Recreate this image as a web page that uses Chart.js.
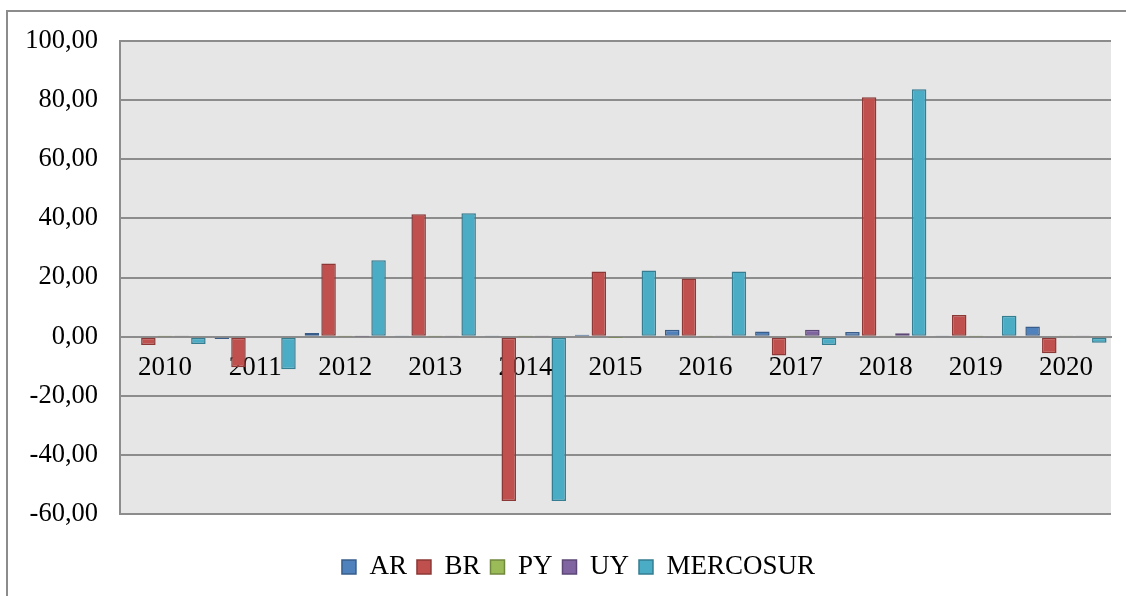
<!DOCTYPE html>
<html>
<head>
<meta charset="utf-8">
<script src="https://cdn.jsdelivr.net/npm/chart.js@4.4.0/dist/chart.umd.min.js"></script>
<style>
  html, body { margin: 0; padding: 0; background: #ffffff; }
  #wrap { position: relative; width: 1126px; height: 596px; }
</style>
</head>
<body>
<div id="wrap"><canvas id="barChart" width="1126" height="596"></canvas></div>
<script>
const years = ['2010', '2011', '2012', '2013', '2014', '2015', '2016', '2017', '2018', '2019', '2020'];
const valuesAR = [0.3, -0.8, 1.2, 0.1, 0.1, 0.6, 2.3, 1.7, 1.6, 0.1, 3.4];
const valuesBR = [-2.8, -10.4, 24.7, 41.4, -55.6, 22.0, 19.7, -6.4, 81.0, 7.3, -5.6];
const valuesPY = [0.05, 0.0, 0.05, 0.05, 0.05, -0.1, 0.05, 0.05, 0.1, 0.05, 0.1];
const valuesUY = [0.1, 0.0, 0.05, 0.1, 0.1, -0.3, 0.2, 2.3, 1.1, -0.3, 0.2];
const valuesMERCOSUR = [-2.5, -11.0, 25.8, 41.7, -55.6, 22.4, 22.0, -2.8, 83.7, 7.1, -2.1];

const fontFamily = '"Liberation Serif", "Times New Roman", serif';

// fondo gris del area de trazado y marco exterior
const frameAndBg = {
    id: 'frameAndBg',
    afterLayout(chart) {
        // recoloca la leyenda como en el original
        const lg = chart.legend;
        const shiftY = 567 - (lg.top + lg.height / 2);
        lg.top += shiftY;
        lg.bottom += shiftY;
        lg.left += 23;
        lg.right += 23;
    },
    beforeDraw(chart) {
        const ctx = chart.ctx;
        const a = chart.chartArea;
        ctx.save();
        ctx.strokeStyle = '#8c8c8c';
        ctx.lineWidth = 2;
        ctx.beginPath();
        ctx.moveTo(7, 596);
        ctx.lineTo(7, 11);
        ctx.lineTo(1126, 11);
        ctx.stroke();
        ctx.fillStyle = '#e6e6e6';
        ctx.fillRect(a.left, a.top, a.right - a.left, a.bottom - a.top);
        ctx.restore();
    }
};

function makeSet(label, data, fill, border) {
    return {
        label: label,
        data: data,
        backgroundColor: fill,
        borderColor: border,
        borderWidth: 1.5,
        borderSkipped: false,
        barPercentage: 0.87,
        categoryPercentage: 0.925
    };
}

const ctx = document.getElementById('barChart').getContext('2d');
const barChart = new Chart(ctx, {
    type: 'bar',
    data: {
        labels: years,
        datasets: [
            makeSet('AR', valuesAR, '#4f81bd', '#385d8a'),
            makeSet('BR', valuesBR, '#c0504d', '#8c3836'),
            makeSet('PY', valuesPY, '#9bbb59', '#71893f'),
            makeSet('UY', valuesUY, '#8064a2', '#5c4776'),
            makeSet('MERCOSUR', valuesMERCOSUR, '#4bacc6', '#357d91')
        ]
    },
    options: {
        responsive: false,
        animation: false,
        layout: { padding: { top: 41, right: 15, bottom: 35, left: 0 } },
        scales: {
            x: {
                position: { y: 0 },
                grid: { display: false, drawTicks: false },
                border: { display: true, color: '#8c8c8c', width: 2 },
                ticks: {
                    color: '#000000',
                    font: { family: fontFamily, size: 27 },
                    padding: 15,
                    maxRotation: 0
                }
            },
            y: {
                min: -60,
                max: 100,
                afterFit(scale) { scale.width = 120; },
                grid: { color: '#8c8c8c', lineWidth: 2, drawTicks: false },
                border: { display: true, color: '#8c8c8c', width: 2 },
                ticks: {
                    stepSize: 20,
                    color: '#000000',
                    font: { family: fontFamily, size: 26.5 },
                    padding: 22,
                    callback: v => v.toFixed(2).replace('.', ',')
                }
            }
        },
        plugins: {
            legend: {
                position: 'bottom',
                labels: {
                    color: '#000000',
                    font: { family: fontFamily, size: 27 },
                    boxWidth: 14,
                    boxHeight: 14,
                    padding: 10
                }
            },
            tooltip: { enabled: false }
        }
    },
    plugins: [frameAndBg]
});
</script>
</body>
</html>
